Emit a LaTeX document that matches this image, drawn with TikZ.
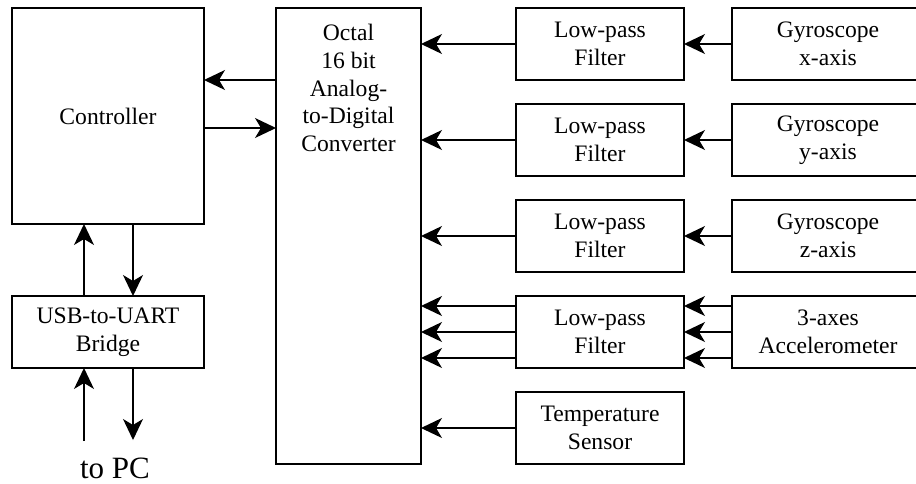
\documentclass[tikz,border=0pt]{standalone}
\usepackage{fontspec}
\setmainfont{Liberation Serif}
\usetikzlibrary{arrows.meta}
\newcommand\bfs{\fontsize{23.6}{27.5}\selectfont}
\newcommand\pcfs{\fontsize{31}{34}\selectfont}
\tikzset{
  box/.style={draw, line width=1.5pt, inner sep=0pt, outer sep=0pt, align=center, font=\bfs},
  arr/.style={line width=1.3pt, -{Stealth[length=21pt, width=20pt, inset=6pt]}}
}
\begin{document}
\begin{tikzpicture}[x=1pt, y=-1pt]
\useasboundingbox (0,0) rectangle (916,483);
\clip (0,0) rectangle (916,483);
% left column
\node[box, minimum width=192pt, minimum height=216pt] (ctrl) at (108,116) {Controller};
\node[box, minimum width=192pt, minimum height=72pt] (usb) at (108,332) {USB-to-UART\\Bridge};
% ADC
\node[box, minimum width=145pt, minimum height=456pt] (adc) at (348.5,236) {};
\node[inner sep=0pt, outer sep=0pt, align=center, font=\fontsize{23.6}{27.75}\selectfont, anchor=north] (adctxt) at (348.5,24.3)
  {Octal\\16 bit\\Analog-\\to-Digital\\Converter};
% filters
\node[box, minimum width=168pt, minimum height=72pt] (f1) at (600,44) {Low-pass\\Filter};
\node[box, minimum width=168pt, minimum height=72pt] (f2) at (600,140) {Low-pass\\Filter};
\node[box, minimum width=168pt, minimum height=72pt] (f3) at (600,236) {Low-pass\\Filter};
\node[box, minimum width=168pt, minimum height=72pt] (f4) at (600,332) {Low-pass\\Filter};
\node[box, minimum width=168pt, minimum height=72pt] (temp) at (600,428) {Temperature\\Sensor};
% sensors
\node[box, minimum width=192pt, minimum height=72pt] (g1) at (828,44) {Gyroscope\\x-axis};
\node[box, minimum width=192pt, minimum height=72pt] (g2) at (828,140) {Gyroscope\\y-axis};
\node[box, minimum width=192pt, minimum height=72pt] (g3) at (828,236) {Gyroscope\\z-axis};
\node[box, minimum width=192pt, minimum height=72pt] (acc) at (828,332) {3-axes\\Accelerometer};
% controller <-> adc
\draw[arr] (adc.west |- 0,80) -- (ctrl.east |- 0,80);
\draw[arr] (ctrl.east |- 0,128) -- (adc.west |- 0,128);
% controller <-> usb
\draw[arr] (usb.north -| 84,0) -- (ctrl.south -| 84,0);
\draw[arr] (ctrl.south -| 133,0) -- (usb.north -| 133,0);
% usb <-> PC
\coordinate (pcin) at (84,441);
\coordinate (pcout) at (133,440);
\draw[arr] (pcin) -- (usb.south -| pcin);
\draw[arr] (usb.south -| pcout) -- (pcout);
\node[inner sep=0pt, anchor=base, font=\pcfs] (pc) at (115,478) {to PC};
% filters -> adc
\draw[arr] (f1.west) -- (adc.east |- f1.west);
\draw[arr] (f2.west) -- (adc.east |- f2.west);
\draw[arr] (f3.west) -- (adc.east |- f3.west);
\draw[arr] (f4.west |- 0,306) -- (adc.east |- 0,306);
\draw[arr] (f4.west) -- (adc.east |- f4.west);
\draw[arr] (f4.west |- 0,358) -- (adc.east |- 0,358);
\draw[arr] (temp.west) -- (adc.east |- temp.west);
% sensors -> filters
\draw[arr] (g1.west) -- (f1.east);
\draw[arr] (g2.west) -- (f2.east);
\draw[arr] (g3.west) -- (f3.east);
\draw[arr] (acc.west |- 0,306) -- (f4.east |- 0,306);
\draw[arr] (acc.west) -- (f4.east);
\draw[arr] (acc.west |- 0,358) -- (f4.east |- 0,358);
\end{tikzpicture}
\end{document}
